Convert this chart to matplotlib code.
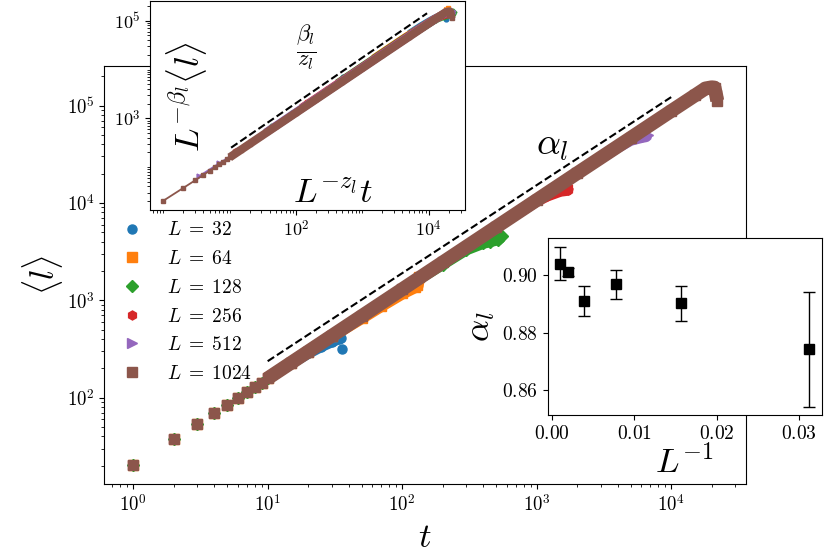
import numpy as np
import matplotlib
matplotlib.use("Agg")
import matplotlib.pyplot as plt
from matplotlib.ticker import FuncFormatter, NullFormatter, LogLocator, FixedLocator

plt.rcParams['mathtext.fontset'] = 'cm'
plt.rcParams['font.family'] = ['DejaVu Serif']

# ---------------- data ----------------
sizes = [32, 64, 128, 256, 512, 1024]
labels = [r'$L\;=\;32$', r'$L\;=\;64$', r'$L\;=\;128$', r'$L\;=\;256$',
          r'$L\;=\;512$', r'$L\;=\;1024$']

# common early-time values (t = 1..10)
t_early = [1, 2, 3, 4, 5, 6, 7, 8, 9, 10]
l_early = [20.4, 37.3, 53.2, 69.0, 84.0, 99.7, 114, 128, 143, 158]

t_32 = [15, 20, 25, 30, 34, 35, 36]
l_32 = [226, 285, 335, 375, 404, 410, 318]

t_64 = [15, 20, 30, 50, 70, 100, 125, 130, 133]
l_64 = [229, 298, 432, 660, 880, 1180, 1375, 1420, 1750]

t_128 = [15, 20, 30, 50, 100, 200, 300, 400, 450, 520, 550]
l_128 = [229, 298, 432, 689, 1299, 2330, 3300, 3850, 4000, 4200, 4600]

t_256 = [15, 20, 30, 50, 100, 200, 500, 1000, 1200, 1500, 1700, 1720]
l_256 = [229, 298, 432, 689, 1299, 2450, 5670, 10400, 11800, 13200, 13500, 14500]

t_512 = [15, 20, 30, 50, 100, 200, 500, 1000, 2000, 4000, 5000, 6000, 6500, 6700]
l_512 = [229, 298, 432, 689, 1299, 2450, 5670, 10700, 20200, 37000, 44000, 47000, 48000, 50000]

t_1024 = [15, 20, 30, 50, 100, 200, 500, 1000, 2000, 5000, 10000, 15000, 18000,
          20000, 21000, 21600, 22000]
l_1024 = [229, 298, 432, 689, 1299, 2450, 5670, 10700, 20200, 46600, 87900, 127000, 150000,
          154000, 153000, 128000, 112000]

tails_t = [t_32, t_64, t_128, t_256, t_512, t_1024]
tails_l = [l_32, l_64, l_128, l_256, l_512, l_1024]

# exponents
alpha_fit = 0.904          # main dashed guide
z_l = 1.80
beta_l = 1.68

# alpha_l vs 1/L
alpha_vals = [0.8742, 0.8902, 0.8969, 0.8911, 0.9011, 0.9041]
alpha_errs = [0.0201, 0.0060, 0.0050, 0.0053, 0.0015, 0.0059]

# dashed guides: [t_start, t_end], value at start
dash_t = [10, 1.0e4]
dash_l0 = 237
dash_t_in = [10.5, 9400]
dash_l0_in = 250

# ---------------- styles ----------------
markers = ['o', 's', 'D', 'h', '>', 's']
colors = ['C0', 'C1', 'C2', 'C3', 'C4', 'C5']
band_lw = [8, 9, 8, 8, 8, 10]
band_skip_end = [1, 0, 0, 0, 0, 0]   # isolated last points not merged into band

def log_fmt(v, p):
    e = int(round(np.log10(v)))
    return r'$10^{%d}$' % e

fig = plt.figure(figsize=(8.3, 5.54), dpi=100)

# ---------------- main axes ----------------
ax = fig.add_axes([0.1253, 0.1264, 0.7735, 0.7545])
for i, L in enumerate(sizes):
    t = np.array(t_early + tails_t[i], dtype=float)
    l = np.array(l_early + tails_l[i], dtype=float)
    n = len(t) - band_skip_end[i]
    ax.plot(t[9:n], l[9:n], '-', color=colors[i], lw=band_lw[i], solid_capstyle='butt',
            zorder=2 + i)
    ax.plot(t, l, linestyle='none', marker=markers[i], ms=6.5, color=colors[i],
            label=labels[i], zorder=2 + i)

td = np.array(dash_t, dtype=float)
ax.plot(td, dash_l0 * (td / td[0]) ** alpha_fit, 'k--', lw=1.5, zorder=20)

ax.set_xscale('log')
ax.set_yscale('log')
ax.set_xlim(0.607, 3.6e4)
ax.set_ylim(13, 2.55e5)
ax.xaxis.set_major_formatter(FuncFormatter(log_fmt))
ax.yaxis.set_major_formatter(FuncFormatter(log_fmt))
ax.xaxis.set_minor_formatter(NullFormatter())
ax.yaxis.set_minor_formatter(NullFormatter())
ax.tick_params(labelsize=13.5)
ax.set_xlabel(r'$t$', fontsize=25)
ax.set_ylabel(r'$\langle l \rangle$', fontsize=24, labelpad=1)
ax.text(0.699, 0.811, r'$\alpha_l$', transform=ax.transAxes, fontsize=27,
        ha='center', va='center')
ax.legend(loc='center left', bbox_to_anchor=(0.1263, 0.4545), bbox_transform=fig.transFigure,
          frameon=False, fontsize=14, borderaxespad=0, labelspacing=0.55,
          handletextpad=0.8)

# ---------------- inset 1: collapse ----------------
ax1 = fig.add_axes([0.1807, 0.6204, 0.3795, 0.378])
for i, L in enumerate(sizes):
    t = np.array(t_early + tails_t[i], dtype=float)
    l = np.array(l_early + tails_l[i], dtype=float)
    s = L / sizes[-1]
    xs = t * s ** (-z_l)
    ys = l * s ** (-beta_l)
    n = len(t) - band_skip_end[i]
    ax1.plot(xs, ys, '-', marker=markers[i], ms=3.5, lw=1.3, color=colors[i], zorder=2 + i)
    ax1.plot(xs[9:n], ys[9:n], '-', lw=6, color=colors[i], solid_capstyle='butt',
             zorder=2 + i)

tdi = np.array(dash_t_in, dtype=float)
ax1.plot(tdi, dash_l0_in * (tdi / tdi[0]) ** (beta_l / z_l), 'k--', lw=1.5, zorder=20)
ax1.set_xscale('log')
ax1.set_yscale('log')
ax1.set_xlim(0.63, 3.5e4)
ax1.set_ylim(13, 2.55e5)
ax1.xaxis.set_major_locator(FixedLocator([1e2, 1e4]))
ax1.yaxis.set_major_locator(FixedLocator([1e3, 1e5]))
ax1.xaxis.set_minor_locator(LogLocator(base=10, subs=np.arange(1, 10), numticks=100))
ax1.yaxis.set_minor_locator(LogLocator(base=10, subs=np.arange(1, 10), numticks=100))
ax1.xaxis.set_major_formatter(FuncFormatter(log_fmt))
ax1.yaxis.set_major_formatter(FuncFormatter(log_fmt))
ax1.xaxis.set_minor_formatter(NullFormatter())
ax1.yaxis.set_minor_formatter(NullFormatter())
ax1.tick_params(labelsize=13)
ax1.text(0.117, 0.541, r'$L^{-\beta_l}\langle l\rangle$', transform=ax1.transAxes,
         fontsize=25, rotation=90, ha='center', va='center')
ax1.text(0.498, 0.779, r'$\frac{\beta_l}{z_l}$', transform=ax1.transAxes,
         fontsize=23, ha='center', va='center')
ax1.text(0.581, 0.087, r'$L^{-z_l}t$', transform=ax1.transAxes,
         fontsize=25, ha='center', va='center')

# ---------------- inset 2: alpha_l vs 1/L ----------------
ax2 = fig.add_axes([0.6599, 0.2509, 0.3301, 0.319])
inv_L = [1.0 / L for L in sizes]
ax2.errorbar(inv_L, alpha_vals, yerr=alpha_errs, fmt='s', color='k', ms=7,
             capsize=4, elinewidth=1, ecolor='k', capthick=1)
ax2.set_xlim(-0.00053, 0.03277)
ax2.set_ylim(0.8513, 0.9129)
ax2.xaxis.set_major_locator(FixedLocator([0.0, 0.01, 0.02, 0.03]))
ax2.yaxis.set_major_locator(FixedLocator([0.86, 0.88, 0.90]))
ax2.xaxis.set_major_formatter(FuncFormatter(lambda v, p: r'$%.2f$' % abs(v)))
ax2.yaxis.set_major_formatter(FuncFormatter(lambda v, p: r'$%.2f$' % v))
ax2.tick_params(labelsize=14)
ax2.set_xlabel(r'$L^{-1}$', fontsize=25, labelpad=2)
ax2.set_ylabel(r'$\alpha_l$', fontsize=25)

fig.savefig('out.png', dpi=100)
